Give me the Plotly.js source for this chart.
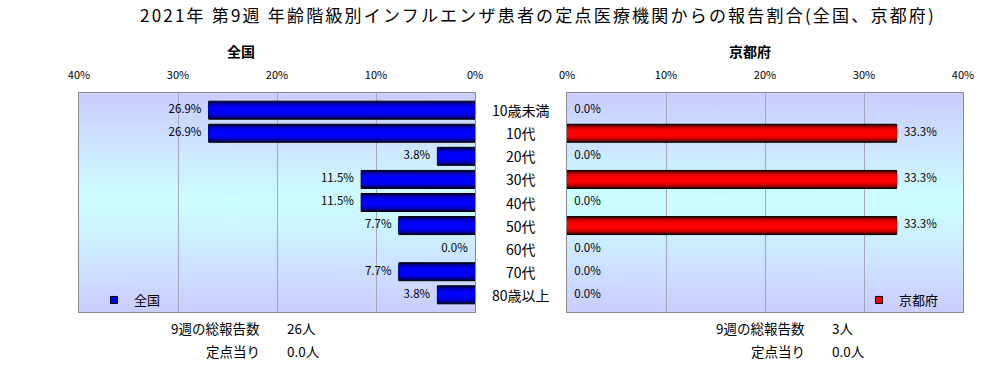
<!DOCTYPE html>
<html>
<head>
<meta charset="utf-8">
<script src="https://cdn.plot.ly/plotly-3.0.1.min.js"></script>
<style>
html,body{margin:0;padding:0;background:#fff;}
#chart{width:1006px;height:365px;}
#chart .gtitle{letter-spacing:2.2px;}
</style>
</head>
<body>
<div id="chart"></div>
<script>
// ---- data ----
const chartTitle = "2021年 第9週 年齢階級別インフルエンザ患者の定点医療機関からの報告割合(全国、京都府)";
const categories = ["10歳未満","10代","20代","30代","40代","50代","60代","70代","80歳以上"];
const nationalName = "全国";
const kyotoName = "京都府";
const nationalValues = [26.9, 26.9, 3.8, 11.5, 11.5, 7.7, 0.0, 7.7, 3.8];
const kyotoValues = [0.0, 33.3, 0.0, 33.3, 0.0, 33.3, 0.0, 0.0, 0.0];
const tickValues = [0, 10, 20, 30, 40];
const weekLabel = "9週の総報告数";
const perSiteLabel = "定点当り";
const nationalTotal = "26人";
const kyotoTotal = "3人";
const nationalPerSite = "0.0人";
const kyotoPerSite = "0.0人";

// ---- styling helpers ----
const W = 1006, H = 365;
const px = v => v / W;
const py = v => 1 - v / H;
const FONT = "'Noto Sans CJK JP', 'Noto Sans', sans-serif";

function gradientURL(stops) {
  const c = document.createElement('canvas');
  c.width = 4; c.height = 200;
  const g = c.getContext('2d');
  const grd = g.createLinearGradient(0, 0, 0, 200);
  stops.forEach(s => grd.addColorStop(s[0], s[1]));
  g.fillStyle = grd; g.fillRect(0, 0, c.width, c.height);
  return c.toDataURL();
}
const bgURL = gradientURL([[0,'#ccccff'],[0.5,'#ccffff'],[1,'#ccccff']]);

const blueLayers = [[0.78,'#000048'],[0.68,'#000088'],[0.56,'#0000bb'],[0.44,'#0000e0'],[0.30,'#0000ff']];
const redLayers  = [[0.78,'#480000'],[0.68,'#880000'],[0.56,'#bb0000'],[0.44,'#e00000'],[0.30,'#ff0000']];

function barLayers(values, layers, xa, ya) {
  return layers.map((l, i) => ({
    type: 'bar', orientation: 'h',
    x: values, y: categories,
    xaxis: xa, yaxis: ya,
    width: l[0],
    marker: {color: l[1], line: {color: '#000000', width: i === 0 ? values.map(v => v === 0 ? 0 : 1) : 0}},
    showlegend: false,
    hoverinfo: 'x+y'
  }));
}

function labelTrace(values, xa, ya, pos) {
  return {
    type: 'scatter', mode: 'markers+text',
    x: values, y: categories, xaxis: xa, yaxis: ya,
    text: values.map(v => v.toFixed(1) + '%'),
    textposition: pos,
    textfont: {family: FONT, size: 11.5, color: '#000000'},
    marker: {size: 10, color: 'rgba(0,0,0,0)'},
    cliponaxis: false, showlegend: false, hoverinfo: 'skip'
  };
}

const traces = [].concat(
  barLayers(nationalValues, blueLayers, 'x', 'y'),
  barLayers(kyotoValues, redLayers, 'x2', 'y2'),
  [
    labelTrace(nationalValues, 'x', 'y', 'middle left'),
    labelTrace(kyotoValues, 'x2', 'y2', 'middle right'),
    {type:'scatter', mode:'markers', x:[null], y:[null], xaxis:'x', yaxis:'y', name: nationalName,
     marker:{symbol:'square', size:7, color:'#0000ff', line:{color:'#000000', width:1}}, showlegend:true, legend:'legend'},
    {type:'scatter', mode:'markers', x:[null], y:[null], xaxis:'x2', yaxis:'y2', name: kyotoName,
     marker:{symbol:'square', size:7, color:'#ff0000', line:{color:'#000000', width:1}}, showlegend:true, legend:'legend2'}
  ]
);

const yDomain = [py(312), py(93)];
const xCommon = {
  side: 'top', tickvals: tickValues, ticktext: tickValues.map(v => v + '%'),
  showgrid: true, gridcolor: '#a6a6b8', gridwidth: 1,
  zeroline: false, showline: true, linecolor: '#8a8a8a', linewidth: 1, mirror: true,
  ticks: 'outside', ticklen: 9, tickcolor: 'rgba(0,0,0,0)',
  tickfont: {family: FONT, size: 11, color: '#000000'}, fixedrange: true
};
const yCommon = {
  type: 'category', categoryorder: 'array', categoryarray: categories,
  autorange: 'reversed', showticklabels: false, showgrid: false, zeroline: false,
  showline: true, linecolor: '#8a8a8a', linewidth: 1, mirror: true, ticks: '', fixedrange: true
};

const annotations = [
  {text: '<b>' + nationalName + '</b>', x: px(241), y: py(51)},
  {text: '<b>' + kyotoName + '</b>', x: px(750), y: py(51)},
].map(a => Object.assign({xref:'paper', yref:'paper', showarrow:false, xanchor:'center', yanchor:'middle',
  font:{family: FONT, size: 14, color:'#000000'}}, a));

categories.forEach(c => annotations.push({
  text: c, xref: 'paper', yref: 'y', x: px(521), y: c, showarrow: false,
  xanchor: 'center', yanchor: 'middle', font: {family: FONT, size: 14, color: '#000000'}
}));

const footer = [
  [weekLabel, 262, 328, 'right'], [nationalTotal, 285, 328, 'left'],
  [perSiteLabel, 262, 351, 'right'], [nationalPerSite, 285, 351, 'left'],
  [weekLabel, 807, 328, 'right'], [kyotoTotal, 830, 328, 'left'],
  [perSiteLabel, 807, 351, 'right'], [kyotoPerSite, 830, 351, 'left']
];
footer.forEach(f => annotations.push({
  text: f[0], xref: 'paper', yref: 'paper', x: px(f[1]), y: py(f[2]), showarrow: false,
  xanchor: f[3], yanchor: 'middle', font: {family: FONT, size: 13.5, color: '#000000'}
}));

const layout = {
  width: W, height: H,
  margin: {l: 0, r: 0, t: 0, b: 0},
  paper_bgcolor: '#ffffff', plot_bgcolor: 'rgba(0,0,0,0)',
  barmode: 'overlay',
  font: {family: FONT, color: '#000000'},
  title: {text: chartTitle, x: px(538), xanchor: 'center', y: py(16), yanchor: 'middle',
          font: {family: FONT, size: 17, color: '#000000'}},
  xaxis: Object.assign({}, xCommon, {domain: [px(79), px(475)], range: [40, 0], anchor: 'y'}),
  yaxis: Object.assign({}, yCommon, {domain: yDomain, anchor: 'x'}),
  xaxis2: Object.assign({}, xCommon, {domain: [px(567), px(963)], range: [0, 40], anchor: 'y2'}),
  yaxis2: Object.assign({}, yCommon, {domain: yDomain, anchor: 'x2'}),
  images: [
    {source: bgURL, xref: 'x domain', yref: 'y domain', x: 0, y: 1, sizex: 1, sizey: 1,
     sizing: 'stretch', xanchor: 'left', yanchor: 'top', layer: 'below'},
    {source: bgURL, xref: 'x2 domain', yref: 'y2 domain', x: 0, y: 1, sizex: 1, sizey: 1,
     sizing: 'stretch', xanchor: 'left', yanchor: 'top', layer: 'below'}
  ],
  legend: {x: px(94), y: py(300), xanchor: 'left', yanchor: 'middle', bgcolor: 'rgba(0,0,0,0)',
           itemwidth: 30, font: {family: FONT, size: 13, color: '#000000'}, borderwidth: 0},
  legend2: {x: px(859), y: py(300), xanchor: 'left', yanchor: 'middle', bgcolor: 'rgba(0,0,0,0)',
            itemwidth: 30, font: {family: FONT, size: 13, color: '#000000'}, borderwidth: 0},
  annotations: annotations,
  showlegend: true
};

Plotly.newPlot('chart', traces, layout, {displayModeBar: false, staticPlot: true});
</script>
</body>
</html>
